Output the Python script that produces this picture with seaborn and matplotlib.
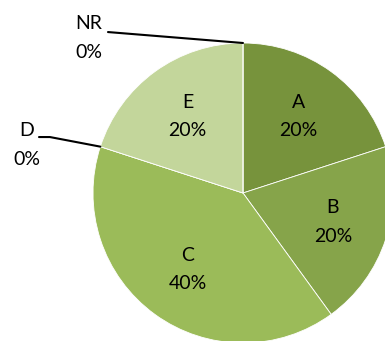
import matplotlib.pyplot as plt
import numpy as np
import seaborn as sns

sns.set_theme(style='white')
plt.rcParams['font.family'] = ['Lato', 'DejaVu Sans']

# Data
categories = ['A', 'B', 'C', 'D', 'E', 'NR']
shares = [20, 20, 40, 0, 20, 0]
colors = ['#77933c', '#86a44a', '#9bbb59', '#9bbb59', '#c3d69b', '#c3d69b']

fig = plt.figure(figsize=(3.85, 3.41), dpi=100)
# square axes in pixels: center (243, 193), radius 150
ax = fig.add_axes([(243 - 150) / 385, (341 - 193 - 150) / 341, 300 / 385, 300 / 341])

wedges, _ = ax.pie(
    shares,
    colors=colors,
    startangle=90,
    counterclock=False,
    radius=1,
    wedgeprops=dict(edgecolor='white', linewidth=0.6),
    normalize=True,
)
ax.set_xlim(-1, 1)
ax.set_ylim(-1, 1)
ax.axis('off')
for w in wedges:
    w.set_clip_on(False)

# labels
lab = dict(ha='center', va='center', fontsize=14, linespacing=1.85, color='black')
for w, cat, val in zip(wedges, categories, shares):
    mid = np.deg2rad((w.theta1 + w.theta2) / 2)
    text = f'{cat}\n{val}%'
    if val > 0:
        r = 0.63
        ax.text(r * np.cos(mid), r * np.sin(mid), text, **lab)
    else:
        ex, ey = np.cos(mid), np.sin(mid)
        if cat == 'NR':
            ax.text(-1.027, 1.035, text, clip_on=False, **lab)
            ax.plot([-0.9, ex], [1.073, ey], color='black', lw=1.5, clip_on=False)
        else:
            ax.text(-1.44, 0.32, text, clip_on=False, **lab)
            ax.plot([-1.36, -1.287, ex], [0.373, 0.373, ey], color='black', lw=1.5,
                    clip_on=False)

fig.savefig('out.png', dpi=100)
